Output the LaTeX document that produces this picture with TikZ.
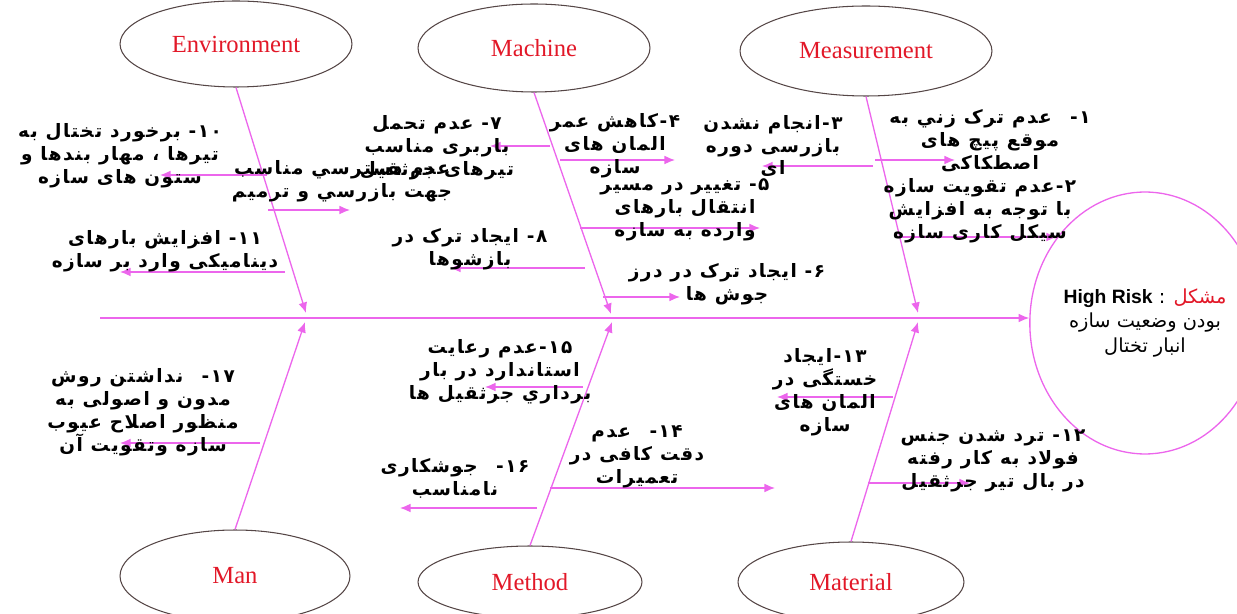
\documentclass[tikz,border=0pt]{standalone}
\usepackage{fontspec}
\usepackage{tikz}
\tikzset{>=latex}
\usetikzlibrary{shapes.geometric,arrows,arrows.meta}

\newfontfamily\pfont[Script=Arabic,LetterSpace=8]{DejaVu Sans}
\newfontfamily\rfont[Script=Arabic]{DejaVu Sans}
\newfontfamily\tfont{Liberation Serif}
\newfontfamily\hfont{Liberation Sans}
\TeXXeTstate=1
\newcommand{\fa}[1]{\beginR #1\endR}

\definecolor{bonepink}{RGB}{236,102,236}
\definecolor{rimgray}{RGB}{85,70,70}
\definecolor{catred}{RGB}{226,24,40}

\tikzset{
  category/.style={ellipse, draw=rimgray, line width=0.6pt, inner sep=0pt,
    text=catred, font=\tfont\fontsize{14}{16}\selectfont},
  cause/.style={align=center, inner sep=0pt,
    font=\pfont\bfseries\fontsize{10.5}{13}\selectfont},
  bone/.style={bonepink, line width=0.75pt, -{Latex[length=6pt,width=5pt]}},
}

\begin{document}
\begin{tikzpicture}[x=0.02cm, y=-0.02cm]
    \useasboundingbox (0,0) rectangle (1237,614);

    % the six category heads
    \node[category, minimum width=4.64cm, minimum height=1.72cm] (env) at (236,44) {Environment};
    \node[category, minimum width=4.64cm, minimum height=1.76cm] (mach) at (534,48) {Machine};
    \node[category, minimum width=5.04cm, minimum height=1.8cm] (meas) at (866,51) {Measurement};
    \node[category, minimum width=4.6cm, minimum height=1.84cm] (man) at (235,576) {Man};
    \node[category, minimum width=4.48cm, minimum height=1.44cm] (meth) at (530,582) {Method};
    \node[category, minimum width=4.52cm, minimum height=1.6cm] (mat) at (851,582) {Material};

    % the problem
    \node[ellipse, draw=bonepink, line width=0.75pt, minimum width=3.72cm, minimum height=5.24cm,
          inner sep=0pt, align=center, font=\rfont\fontsize{11}{14}\selectfont] (risk) at (1145,323)
          {{\hfont\bfseries High Risk} : {\color{catred}مشکل}\\\fa{بودن وضعیت سازه}\\\fa{انبار تختال}};

    % spine and bones
    \coordinate (tail) at (100,318);
    \draw[bone] (tail) -- (tail -| risk.west);
    \coordinate (envtip) at (306,313);
    \coordinate (machtip) at (611,314);
    \coordinate (meastip) at (918,313);
    \coordinate (mantip) at (305,322);
    \coordinate (methtip) at (612,322);
    \coordinate (mattip) at (918,322);
    \draw[bone] (env.south) -- (envtip);
    \draw[bone] (mach.south) -- (machtip);
    \draw[bone] (meas.south) -- (meastip);
    \draw[bone] (man.north) -- (mantip);
    \draw[bone] (meth.north) -- (methtip);
    \draw[bone] (mat.north) -- (mattip);

    % causes on the bones
    \coordinate (c1) at (875,160);
    \coordinate (c2) at (900,237);
    \coordinate (c3) at (873,166);
    \coordinate (c4) at (560,160);
    \coordinate (c5) at (580,228);
    \coordinate (c6) at (603,297);
    \coordinate (c7) at (550,146);
    \coordinate (c8) at (585,268);
    \coordinate (c9) at (268,210);
    \coordinate (c10) at (267,175);
    \coordinate (c11) at (285,272);
    \coordinate (c12) at (868,483);
    \coordinate (c13) at (893,397);
    \coordinate (c14) at (550,488);
    \coordinate (c15) at (583,387);
    \coordinate (c16) at (537,508);
    \coordinate (c17) at (260,443);
    \draw[bone] (c1) -- ++(80,0);
    \draw[bone] (c2) -- ++(157,0);
    \draw[bone] (c3) -- ++(-111,0);
    \draw[bone] (c4) -- ++(115,0);
    \draw[bone] (c5) -- ++(180,0);
    \draw[bone] (c6) -- ++(77,0);
    \draw[bone] (c7) -- ++(-60,0);
    \draw[bone] (c8) -- ++(-135,0);
    \draw[bone] (c9) -- ++(82,0);
    \draw[bone] (c10) -- ++(-107,0);
    \draw[bone] (c11) -- ++(-165,0);
    \draw[bone] (c12) -- ++(102,0);
    \draw[bone] (c13) -- ++(-116,0);
    \draw[bone] (c14) -- ++(225,0);
    \draw[bone] (c15) -- ++(-98,0);
    \draw[bone] (c16) -- ++(-137,0);
    \draw[bone] (c17) -- ++(-140,0);

    % cause texts
    \node[cause] (t1) at (990,141) {\fa{۱-\quad عدم ترک زني به}\\\fa{موقع پیچ های}\\\fa{اصطکاکی}};
    \node[cause] (t2) at (980,211) {\fa{۲-عدم تقویت سازه}\\\fa{با توجه به افزایش}\\\fa{سیکل کاری سازه}};
    \node[cause] (t3) at (773,146) {\fa{۳-انجام نشدن}\\\fa{بازرسی دوره}\\\fa{ای}};
    \node[cause] (t4) at (615,146) {\fa{۴-کاهش عمر}\\\fa{المان های}\\\fa{سازه}};
    \node[cause] (t5) at (685,210) {\fa{۵- تغییر در مسیر}\\\fa{انتقال بارهای}\\\fa{وارده به سازه}};
    \node[cause] (t6) at (727,284) {\fa{۶- ایجاد ترک در درز}\\\fa{جوش ها}};
    \node[cause] (t7) at (437,148) {\fa{۷- عدم تحمل}\\\fa{باربری مناسب}\\\fa{تیرهای جرثقیل}};
    \node[cause] (t8) at (470,249) {\fa{۸- ایجاد ترک در}\\\fa{بازشوها}};
    \node[cause] (t9) at (342,181) {\fa{عدم دسترسي مناسب}\\\fa{جهت بازرسي و ترميم}};
    \node[cause] (t10) at (120,156) {\fa{۱۰- برخورد تختال به}\\\fa{تیرها ، مهار بندها و}\\\fa{ستون های سازه}};
    \node[cause] (t11) at (165,251) {\fa{۱۱- افزایش بارهای}\\\fa{دینامیکی وارد بر سازه}};
    \node[cause] (t12) at (993,461) {\fa{۱۲- ترد شدن جنس}\\\fa{فولاد به کار رفته}\\\fa{در بال تیر جرثقیل}};
    \node[cause] (t13) at (825,392) {\fa{۱۳-ایجاد}\\\fa{خستگی در}\\\fa{المان های}\\\fa{سازه}};
    \node[cause] (t14) at (637,457) {\fa{۱۴-\quad عدم}\\\fa{دقت کافی در}\\\fa{تعمیرات}};
    \node[cause] (t15) at (500,372) {\fa{۱۵-عدم رعایت}\\\fa{استاندارد در بار}\\\fa{برداري جرثقیل ها}};
    \node[cause] (t16) at (455,478) {\fa{۱۶-\quad جوشکاری}\\\fa{نامناسب}};
    \node[cause] (t17) at (143,412) {\fa{۱۷-\quad نداشتن روش}\\\fa{مدون و اصولی به}\\\fa{منظور اصلاح عیوب}\\\fa{سازه وتقویت آن}};
\end{tikzpicture}
\end{document}
